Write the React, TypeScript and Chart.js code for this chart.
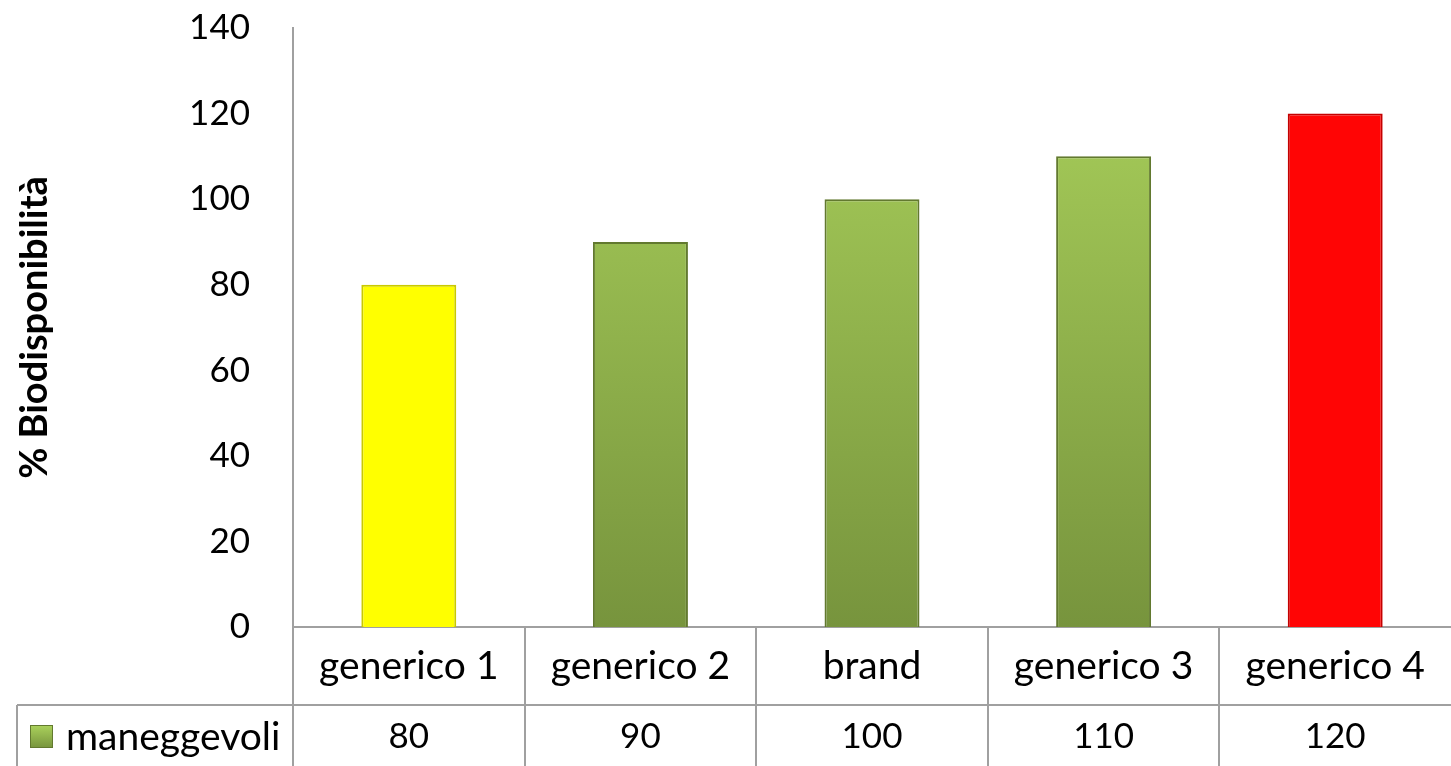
import React, { useEffect, useRef } from "react";
import { Chart, registerables } from "chart.js";

Chart.register(...registerables);

const categories = ["generico 1", "generico 2", "brand", "generico 3", "generico 4"];
const seriesName = "maneggevoli";
const values = [80, 90, 100, 110, 120];
const barKinds = ["yellow", "green", "green", "green", "red"];
const yMin = 0;
const yMax = 140;
const yStep = 20;
const yTitle = "% Biodisponibilità";

const FONT = "Lato, 'Open Sans', 'DejaVu Sans', sans-serif";
const LINE = "#a0a0a0";
const W = 1451;
const H = 766;

function greenGradient(ctx: CanvasRenderingContext2D, top: number, bottom: number) {
  const g = ctx.createLinearGradient(0, top, 0, bottom);
  g.addColorStop(0, "#abd25c");
  g.addColorStop(1, "#77943d");
  return g;
}

function barFill(context: any) {
  const chart = context.chart;
  const kind = barKinds[context.dataIndex];
  const area = chart.chartArea;
  if (kind === "yellow") return "#ffff00";
  if (kind === "red") return "#ff0505";
  if (!area) return "#9bbb59";
  return greenGradient(chart.ctx, area.top, area.bottom);
}

function barBorder(context: any) {
  const kind = barKinds[context.dataIndex];
  if (kind === "yellow") return "#c9c900";
  if (kind === "red") return "#c40000";
  return "#62792f";
}

const tablePlugin = {
  id: "dataTable",
  afterDraw(chart: any) {
    const ctx: CanvasRenderingContext2D = chart.ctx;
    const area = chart.chartArea;
    const xs = chart.scales.x;
    const half = (xs.getPixelForValue(1) - xs.getPixelForValue(0)) / 2;
    const rowTop = area.bottom + 78;
    const tableLeft = 17;
    ctx.save();
    ctx.strokeStyle = LINE;
    ctx.lineWidth = 2;
    ctx.beginPath();
    ctx.moveTo(area.left, area.bottom);
    ctx.lineTo(area.left, H);
    for (let i = 1; i < categories.length; i++) {
      const bx = Math.round(xs.getPixelForValue(i) - half);
      ctx.moveTo(bx, area.bottom);
      ctx.lineTo(bx, H);
    }
    ctx.moveTo(tableLeft, rowTop);
    ctx.lineTo(area.right, rowTop);
    ctx.moveTo(tableLeft, rowTop);
    ctx.lineTo(tableLeft, H);
    ctx.stroke();

    const rowMid = rowTop + 32;
    const kx = 30, ky = rowMid - 12, ks = 23;
    ctx.fillStyle = greenGradient(ctx, ky, ky + ks);
    ctx.fillRect(kx, ky, ks, ks);
    ctx.strokeStyle = "#62792f";
    ctx.lineWidth = 1;
    ctx.strokeRect(kx + 0.5, ky + 0.5, ks - 1, ks - 1);

    ctx.fillStyle = "#000";
    ctx.textBaseline = "middle";
    ctx.textAlign = "left";
    ctx.font = `39px ${FONT}`;
    ctx.fillText(seriesName, 66, rowMid);
    ctx.textAlign = "center";
    ctx.font = `35px ${FONT}`;
    values.forEach((v, i) => {
      ctx.fillText(String(v), xs.getPixelForValue(i), rowMid);
    });
    ctx.restore();
  },
};

export default function App() {
  const ref = useRef<HTMLCanvasElement | null>(null);
  useEffect(() => {
    if (!ref.current) return;
    const chart = new Chart(ref.current, {
      type: "bar",
      data: {
        labels: categories,
        datasets: [
          {
            label: seriesName,
            data: values,
            backgroundColor: barFill as any,
            borderColor: barBorder as any,
            borderWidth: 2,
            barPercentage: 0.41,
            categoryPercentage: 1,
          },
        ],
      },
      options: {
        animation: false,
        responsive: false,
        maintainAspectRatio: false,
        layout: { padding: { top: 28, left: 0, right: 0, bottom: 0 } },
        plugins: {
          legend: { display: false },
          tooltip: { enabled: false },
        },
        scales: {
          x: {
            offset: true,
            grid: { display: false, drawTicks: false },
            border: { display: true, color: LINE, width: 2 },
            ticks: {
              color: "#000",
              font: { family: FONT, size: 39 },
              padding: 16,
              maxRotation: 0,
              autoSkip: false,
            },
            afterFit: (scale: any) => {
              scale.height = 139;
              scale.paddingLeft = 0;
              scale.paddingRight = 0;
            },
          },
          y: {
            min: yMin,
            max: yMax,
            grid: { display: false, drawTicks: false },
            border: { display: true, color: LINE, width: 2 },
            ticks: {
              stepSize: yStep,
              color: "#000",
              font: { family: FONT, size: 35 },
              padding: 43,
            },
            title: {
              display: true,
              text: yTitle,
              color: "#000",
              font: { family: FONT, size: 38, weight: "bold" },
              padding: { top: 12, bottom: 0 },
            },
            afterFit: (scale: any) => {
              scale.width = 293;
              scale.paddingTop = 0;
              scale.paddingBottom = 0;
            },
          },
        },
      },
      plugins: [tablePlugin],
    });
    return () => chart.destroy();
  }, []);
  return (
    <div style={{ position: "absolute", left: 0, top: 0, width: W, height: H, background: "#fff" }}>
      <canvas ref={ref} width={W} height={H} style={{ width: W, height: H, display: "block" }} />
    </div>
  );
}
